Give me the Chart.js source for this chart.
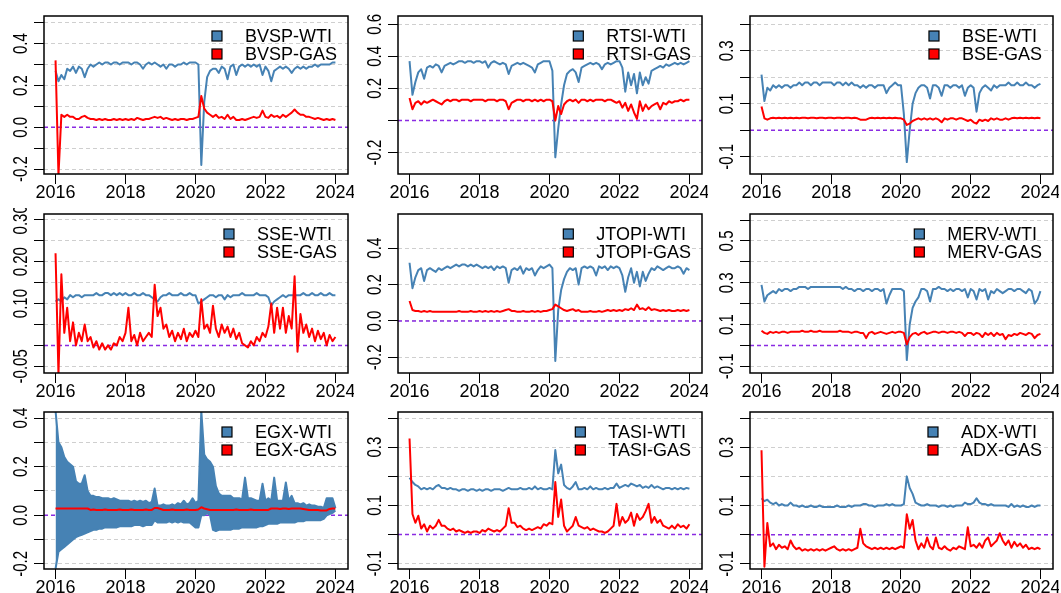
<!DOCTYPE html>
<html>
<head>
<meta charset="utf-8">
<title>Dynamic correlations with WTI and GAS</title>
<script src="https://cdn.jsdelivr.net/npm/chart.js"></script>
<style>
  html, body { margin: 0; padding: 0; background: #fff; }
  #wrap { position: relative; width: 1061px; height: 593px; overflow: hidden; }
  #wrap canvas { position: absolute; }
</style>
</head>
<body>
<div id="wrap"></div>
<script>
// monthly values, Jan 2016 .. Jan 2024 (97 points per series)
var yearTicks = [2016, 2018, 2020, 2022, 2024];
var dates = [];
for (var m = 0; m < 97; m++) dates.push(2016 + m / 12);

// ---- BVSP
var bvspWti = [
  0.27, 0.22, 0.25, 0.23, 0.28, 0.27, 0.29, 0.26, 0.29, 0.28, 0.24, 0.28,
  0.30, 0.29, 0.30, 0.31, 0.30, 0.31, 0.31, 0.30, 0.31, 0.31, 0.30, 0.31,
  0.31, 0.31, 0.30, 0.31, 0.31, 0.30, 0.28, 0.30, 0.31, 0.30, 0.31, 0.30,
  0.29, 0.30, 0.28, 0.30, 0.30, 0.29, 0.30, 0.30, 0.31, 0.30, 0.31, 0.31,
  0.31, 0.30, -0.18, 0.12, 0.24, 0.27, 0.28, 0.28, 0.26, 0.29, 0.28, 0.23,
  0.29, 0.30, 0.25, 0.29, 0.30, 0.29, 0.30, 0.29, 0.30, 0.29, 0.30, 0.25,
  0.29, 0.27, 0.22, 0.27, 0.28, 0.29, 0.28, 0.29, 0.28, 0.26, 0.28, 0.29,
  0.28, 0.29, 0.28, 0.29, 0.29, 0.30, 0.29, 0.30, 0.30, 0.30, 0.30, 0.31,
  0.31];
var bvspGas = [
  0.32, -0.23, 0.06, 0.05, 0.06, 0.05, 0.05, 0.04, 0.04, 0.05, 0.055, 0.045,
  0.04, 0.04, 0.035, 0.04, 0.035, 0.04, 0.035, 0.035, 0.04, 0.035, 0.04, 0.035,
  0.04, 0.035, 0.04, 0.035, 0.045, 0.04, 0.035, 0.04, 0.04, 0.045, 0.05, 0.045,
  0.05, 0.04, 0.045, 0.04, 0.035, 0.04, 0.035, 0.04, 0.04, 0.035, 0.04, 0.04,
  0.045, 0.05, 0.15, 0.09, 0.07, 0.06, 0.05, 0.06, 0.045, 0.05, 0.04, 0.06,
  0.04, 0.05, 0.035, 0.035, 0.04, 0.035, 0.04, 0.045, 0.05, 0.045, 0.05, 0.08,
  0.05, 0.045, 0.06, 0.05, 0.055, 0.045, 0.06, 0.05, 0.06, 0.07, 0.085, 0.07,
  0.06, 0.06, 0.05, 0.05, 0.045, 0.04, 0.045, 0.04, 0.035, 0.04, 0.035, 0.04,
  0.035];
var bvspTicks = [-0.2, -0.1, 0, 0.1, 0.2, 0.3, 0.4, 0.5];
var bvspLabels = ['-0.2', '0.0', '0.2', '0.4'];

// ---- RTSI
var rtsiWti = [
  0.37, 0.16, 0.24, 0.30, 0.32, 0.26, 0.33, 0.34, 0.33, 0.35, 0.34, 0.30,
  0.34, 0.35, 0.36, 0.35, 0.36, 0.37, 0.37, 0.36, 0.37, 0.37, 0.36, 0.37,
  0.37, 0.36, 0.37, 0.33, 0.36, 0.37, 0.36, 0.35, 0.36, 0.35, 0.29, 0.34,
  0.35, 0.36, 0.35, 0.36, 0.35, 0.34, 0.33, 0.30, 0.35, 0.36, 0.37, 0.37,
  0.37, 0.31, -0.23, -0.05, 0.10, 0.22, 0.29, 0.31, 0.32, 0.30, 0.24, 0.33,
  0.34, 0.35, 0.36, 0.35, 0.36, 0.35, 0.32, 0.35, 0.36, 0.35, 0.36, 0.37,
  0.37, 0.33, 0.18, 0.30, 0.22, 0.29, 0.17, 0.30, 0.22, 0.27, 0.23, 0.31,
  0.32, 0.33, 0.34, 0.33, 0.35, 0.34, 0.35, 0.36, 0.35, 0.36, 0.35, 0.36,
  0.37];
var rtsiGas = [
  0.14, 0.07, 0.11, 0.12, 0.10, 0.12, 0.11, 0.12, 0.13, 0.12, 0.11, 0.10,
  0.12, 0.13, 0.12, 0.13, 0.13, 0.12, 0.13, 0.13, 0.13, 0.12, 0.13, 0.13,
  0.13, 0.13, 0.12, 0.13, 0.13, 0.13, 0.12, 0.13, 0.13, 0.12, 0.07, 0.11,
  0.12, 0.13, 0.13, 0.12, 0.13, 0.13, 0.12, 0.13, 0.12, 0.13, 0.12, 0.13,
  0.13, 0.12, 0.00, 0.09, 0.04, 0.10, 0.12, 0.13, 0.12, 0.13, 0.11, 0.13,
  0.13, 0.12, 0.13, 0.12, 0.13, 0.13, 0.13, 0.12, 0.13, 0.13, 0.12, 0.11,
  0.12, 0.08, 0.11, 0.06, 0.10, 0.05, 0.01, 0.12, 0.06, 0.10, 0.07, 0.09,
  0.10, 0.11, 0.07, 0.11, 0.10, 0.12, 0.11, 0.12, 0.12, 0.13, 0.12, 0.13,
  0.13];
var rtsiTicks = [-0.2, 0, 0.2, 0.4, 0.6];
var rtsiLabels = ['-0.2', '0.2', '0.4', '0.6'];

// ---- BSE
var bseWti = [
  0.21, 0.11, 0.16, 0.15, 0.17, 0.16, 0.17, 0.16, 0.17, 0.17, 0.16, 0.17,
  0.17, 0.18, 0.17, 0.18, 0.18, 0.17, 0.18, 0.18, 0.17, 0.18, 0.18, 0.18,
  0.18, 0.17, 0.18, 0.18, 0.17, 0.18, 0.17, 0.18, 0.17, 0.17, 0.16, 0.17,
  0.16, 0.17, 0.17, 0.16, 0.17, 0.17, 0.17, 0.14, 0.16, 0.17, 0.18, 0.17,
  0.17, 0.06, -0.12, 0.00, 0.10, 0.14, 0.16, 0.17, 0.17, 0.16, 0.12, 0.17,
  0.17, 0.16, 0.13, 0.17, 0.17, 0.16, 0.17, 0.17, 0.16, 0.17, 0.13, 0.16,
  0.17, 0.16, 0.07, 0.14, 0.16, 0.17, 0.16, 0.15, 0.17, 0.16, 0.17, 0.17,
  0.17, 0.18, 0.17, 0.17, 0.18, 0.17, 0.17, 0.18, 0.17, 0.17, 0.16, 0.17,
  0.175];
var bseGas = [
  0.09, 0.045, 0.04, 0.045, 0.047, 0.045, 0.047, 0.045, 0.047, 0.045, 0.047, 0.045,
  0.047, 0.045, 0.047, 0.047, 0.045, 0.047, 0.047, 0.045, 0.047, 0.047, 0.045, 0.047,
  0.047, 0.045, 0.047, 0.047, 0.045, 0.047, 0.047, 0.045, 0.047, 0.045, 0.04, 0.04,
  0.04, 0.045, 0.047, 0.045, 0.047, 0.045, 0.047, 0.045, 0.047, 0.045, 0.047, 0.045,
  0.045, 0.04, 0.02, 0.025, 0.035, 0.04, 0.045, 0.04, 0.045, 0.04, 0.045, 0.04,
  0.045, 0.04, 0.03, 0.045, 0.04, 0.045, 0.045, 0.04, 0.045, 0.045, 0.04, 0.035,
  0.04, 0.03, 0.025, 0.04, 0.035, 0.04, 0.035, 0.045, 0.04, 0.045, 0.04, 0.04,
  0.045, 0.04, 0.045, 0.047, 0.045, 0.047, 0.045, 0.047, 0.045, 0.047, 0.045, 0.047,
  0.045];
var bseTicks = [-0.1, 0, 0.1, 0.2, 0.3, 0.4];
var bseLabels = ['-0.1', '0.1', '0.3'];

// ---- SSE
var sseWti = [
  0.105, 0.11, 0.105, 0.115, 0.11, 0.12, 0.115, 0.12, 0.12, 0.115, 0.12, 0.12,
  0.12, 0.12, 0.125, 0.12, 0.12, 0.125, 0.125, 0.12, 0.125, 0.12, 0.125, 0.12,
  0.125, 0.12, 0.12, 0.125, 0.12, 0.12, 0.125, 0.12, 0.12, 0.115, 0.11, 0.105,
  0.115, 0.12, 0.12, 0.125, 0.12, 0.12, 0.12, 0.125, 0.12, 0.12, 0.125, 0.12,
  0.12, 0.10, 0.105, 0.11, 0.115, 0.12, 0.12, 0.115, 0.12, 0.12, 0.11, 0.12,
  0.115, 0.12, 0.12, 0.12, 0.125, 0.12, 0.12, 0.12, 0.12, 0.125, 0.12, 0.12,
  0.12, 0.115, 0.095, 0.105, 0.11, 0.115, 0.12, 0.115, 0.12, 0.12, 0.12, 0.12,
  0.12, 0.125, 0.12, 0.12, 0.125, 0.12, 0.12, 0.125, 0.12, 0.12, 0.125, 0.12,
  0.12];
var sseGas = [
  0.22, -0.07, 0.17, 0.03, 0.09, 0.01, 0.055, 0.0, 0.03, 0.01, 0.05, 0.01,
  0.02, -0.005, 0.01, -0.01, 0.005, -0.01, 0.0, -0.01, 0.005, 0.0, 0.02, 0.01,
  0.03, 0.09, 0.01, 0.025, 0.0, 0.03, 0.01, 0.02, 0.03, 0.02, 0.145, 0.07,
  0.09, 0.04, 0.05, 0.02, 0.035, 0.01, 0.03, 0.015, 0.04, 0.01, 0.03, 0.02,
  0.035, 0.02, 0.11, 0.04, 0.05, 0.03, 0.095, 0.04, 0.02, 0.05, 0.03, 0.045,
  0.02, 0.04, 0.015, 0.03, 0.005, 0.0, -0.005, 0.01, 0.0, 0.02, 0.01, 0.03,
  0.02, 0.045, 0.10, 0.03, 0.09, 0.04, 0.09, 0.03, 0.07, 0.04, 0.165, -0.015,
  0.075, 0.03, 0.05, 0.02, 0.04, 0.01, 0.035, 0.015, 0.03, 0.0, 0.025, 0.01,
  0.02];
var sseTicks = [-0.05, 0, 0.05, 0.10, 0.15, 0.20, 0.25, 0.30];
var sseLabels = ['-0.05', '0.10', '0.20', '0.30'];

// ---- JTOPI
var jtopiWti = [
  0.32, 0.18, 0.24, 0.28, 0.29, 0.22, 0.28, 0.29, 0.28, 0.27, 0.29, 0.28,
  0.29, 0.30, 0.29, 0.30, 0.31, 0.30, 0.31, 0.31, 0.30, 0.31, 0.30, 0.31,
  0.30, 0.29, 0.30, 0.29, 0.30, 0.28, 0.30, 0.29, 0.30, 0.29, 0.21, 0.28,
  0.29, 0.28, 0.30, 0.26, 0.29, 0.28, 0.29, 0.25, 0.28, 0.30, 0.29, 0.30,
  0.31, 0.29, -0.22, 0.06, 0.17, 0.23, 0.27, 0.29, 0.28, 0.29, 0.20, 0.29,
  0.30, 0.29, 0.30, 0.29, 0.25, 0.30, 0.29, 0.30, 0.28, 0.30, 0.29, 0.30,
  0.29, 0.25, 0.16, 0.24, 0.29, 0.21, 0.27, 0.19, 0.27, 0.22, 0.26, 0.29,
  0.28, 0.30, 0.29, 0.28, 0.29, 0.30, 0.29, 0.29, 0.30, 0.29, 0.26, 0.29,
  0.28];
var jtopiGas = [
  0.11, 0.06, 0.055, 0.055, 0.05, 0.055, 0.05, 0.055, 0.05, 0.05, 0.05, 0.05,
  0.05, 0.05, 0.05, 0.05, 0.05, 0.055, 0.05, 0.05, 0.05, 0.055, 0.05, 0.05,
  0.055, 0.05, 0.055, 0.05, 0.055, 0.05, 0.055, 0.05, 0.055, 0.06, 0.065, 0.055,
  0.055, 0.05, 0.05, 0.055, 0.05, 0.05, 0.055, 0.05, 0.055, 0.05, 0.055, 0.055,
  0.06, 0.065, 0.09, 0.08, 0.07, 0.06, 0.055, 0.06, 0.065, 0.055, 0.06, 0.05,
  0.05, 0.05, 0.055, 0.05, 0.05, 0.055, 0.05, 0.055, 0.06, 0.055, 0.06, 0.055,
  0.06, 0.055, 0.065, 0.06, 0.07, 0.06, 0.09, 0.065, 0.07, 0.06, 0.075, 0.06,
  0.065, 0.06, 0.055, 0.06, 0.055, 0.06, 0.055, 0.055, 0.06, 0.055, 0.06, 0.055,
  0.06];
var jtopiTicks = [-0.2, 0, 0.2, 0.4];
var jtopiLabels = ['-0.2', '0.0', '0.2', '0.4'];

// ---- MERV
var mervWti = [
  0.29, 0.21, 0.24, 0.25, 0.26, 0.25, 0.27, 0.26, 0.27, 0.27, 0.26, 0.27,
  0.27, 0.28, 0.28, 0.28, 0.27, 0.28, 0.28, 0.28, 0.28, 0.28, 0.28, 0.28,
  0.28, 0.28, 0.28, 0.28, 0.27, 0.28, 0.27, 0.27, 0.26, 0.27, 0.27, 0.26,
  0.27, 0.27, 0.26, 0.27, 0.27, 0.26, 0.27, 0.20, 0.24, 0.27, 0.27, 0.27,
  0.27, 0.26, -0.07, 0.10, 0.18, 0.21, 0.23, 0.27, 0.27, 0.26, 0.21, 0.27,
  0.27, 0.28, 0.27, 0.27, 0.26, 0.27, 0.26, 0.27, 0.27, 0.26, 0.27, 0.23,
  0.27, 0.26, 0.22, 0.27, 0.26, 0.27, 0.22, 0.26, 0.25, 0.27, 0.26, 0.25,
  0.26, 0.27, 0.27, 0.26, 0.27, 0.27, 0.26, 0.25, 0.27, 0.26, 0.20, 0.22,
  0.26];
var mervGas = [
  0.07, 0.06, 0.055, 0.065, 0.06, 0.065, 0.06, 0.065, 0.065, 0.06, 0.065, 0.065,
  0.065, 0.065, 0.07, 0.065, 0.065, 0.07, 0.065, 0.065, 0.07, 0.065, 0.065, 0.065,
  0.065, 0.065, 0.065, 0.07, 0.065, 0.065, 0.065, 0.06, 0.065, 0.065, 0.06, 0.06,
  0.035, 0.06, 0.065, 0.055, 0.06, 0.065, 0.06, 0.055, 0.06, 0.065, 0.06, 0.065,
  0.065, 0.06, 0.005, 0.04, 0.055, 0.06, 0.05, 0.06, 0.065, 0.055, 0.06, 0.065,
  0.065, 0.06, 0.065, 0.065, 0.06, 0.065, 0.065, 0.06, 0.065, 0.06, 0.045, 0.06,
  0.06, 0.05, 0.06, 0.055, 0.04, 0.06, 0.05, 0.06, 0.045, 0.06, 0.05, 0.055,
  0.03, 0.05, 0.045, 0.055, 0.05, 0.06, 0.055, 0.05, 0.06, 0.055, 0.035, 0.05,
  0.055];
var mervTicks = [-0.1, 0, 0.1, 0.2, 0.3, 0.4, 0.5, 0.6];
var mervLabels = ['-0.1', '0.1', '0.3', '0.5'];

// ---- EGX (WTI oscillates day to day: kept as its upper and lower envelope)
var egxWtiHigh = [
  0.43, 0.30, 0.28, 0.24, 0.22, 0.21, 0.20, 0.14, 0.13, 0.13, 0.165, 0.10,
  0.08, 0.08, 0.075, 0.075, 0.07, 0.07, 0.07, 0.065, 0.07, 0.065, 0.06, 0.06,
  0.06, 0.06, 0.055, 0.06, 0.055, 0.06, 0.055, 0.06, 0.05, 0.055, 0.11, 0.04,
  0.04, 0.045, 0.04, 0.04, 0.045, 0.04, 0.05, 0.045, 0.06, 0.045, 0.05, 0.07,
  0.05, 0.06, 0.43, 0.25, 0.23, 0.22, 0.20, 0.12, 0.09, 0.08, 0.08, 0.08,
  0.08, 0.07, 0.07, 0.07, 0.065, 0.155, 0.07, 0.07, 0.065, 0.06, 0.06, 0.13,
  0.06, 0.07, 0.06, 0.155, 0.06, 0.06, 0.06, 0.135, 0.06, 0.08, 0.05, 0.05,
  0.045, 0.05, 0.04, 0.045, 0.04, 0.04, 0.035, 0.035, 0.03, 0.07, 0.07, 0.07,
  0.03];
var egxWtiLow = [
  -0.22, -0.15, -0.14, -0.13, -0.12, -0.11, -0.10, -0.09, -0.085, -0.08, -0.075, -0.07,
  -0.065, -0.06, -0.06, -0.055, -0.055, -0.05, -0.05, -0.05, -0.05, -0.05, -0.045, -0.045,
  -0.045, -0.045, -0.045, -0.04, -0.04, -0.04, -0.045, -0.04, -0.04, -0.04, -0.02, -0.03,
  -0.03, -0.03, -0.03, -0.025, -0.03, -0.025, -0.03, -0.025, -0.03, -0.03, -0.03, -0.04,
  -0.05, -0.05, 0.00, 0.00, 0.01, 0.00, -0.06, -0.065, -0.06, -0.06, -0.06, -0.06,
  -0.06, -0.055, -0.055, -0.055, -0.05, -0.05, -0.05, -0.05, -0.05, -0.05, -0.045, -0.045,
  -0.04, -0.035, -0.035, -0.035, -0.035, -0.03, -0.03, -0.03, -0.03, -0.03, -0.03, -0.025,
  -0.025, -0.025, -0.02, -0.02, -0.02, -0.02, -0.02, -0.02, -0.015, 0.00, 0.005, 0.01,
  0.02];
var egxGas = [
  0.028, 0.028, 0.028, 0.028, 0.028, 0.028, 0.028, 0.028, 0.028, 0.028, 0.028, 0.028,
  0.022, 0.024, 0.022, 0.022, 0.022, 0.024, 0.022, 0.022, 0.022, 0.022, 0.024, 0.022,
  0.022, 0.022, 0.024, 0.022, 0.022, 0.022, 0.022, 0.024, 0.022, 0.022, 0.030, 0.030,
  0.026, 0.022, 0.022, 0.022, 0.024, 0.022, 0.022, 0.022, 0.022, 0.024, 0.022, 0.022,
  0.022, 0.024, 0.033, 0.028, 0.025, 0.022, 0.022, 0.022, 0.022, 0.022, 0.022, 0.022,
  0.022, 0.022, 0.024, 0.022, 0.022, 0.022, 0.022, 0.024, 0.022, 0.022, 0.022, 0.022,
  0.022, 0.022, 0.028, 0.028, 0.028, 0.026, 0.028, 0.028, 0.026, 0.028, 0.028, 0.028,
  0.028, 0.026, 0.024, 0.022, 0.022, 0.022, 0.022, 0.020, 0.020, 0.020, 0.026, 0.028,
  0.028];
var egxTicks = [-0.2, -0.1, 0, 0.1, 0.2, 0.3, 0.4];
var egxLabels = ['-0.2', '0.0', '0.2', '0.4'];

// ---- TASI
var tasiWti = [
  0.195, 0.18, 0.17, 0.165, 0.155, 0.16, 0.155, 0.16, 0.155, 0.165, 0.17, 0.16,
  0.16, 0.155, 0.16, 0.155, 0.155, 0.15, 0.155, 0.155, 0.15, 0.155, 0.155, 0.15,
  0.155, 0.15, 0.155, 0.155, 0.15, 0.155, 0.155, 0.155, 0.15, 0.155, 0.16, 0.155,
  0.155, 0.155, 0.16, 0.155, 0.155, 0.16, 0.155, 0.165, 0.155, 0.16, 0.155, 0.155,
  0.16, 0.155, 0.29, 0.21, 0.24, 0.17, 0.16, 0.155, 0.165, 0.18, 0.155, 0.155,
  0.16, 0.155, 0.165, 0.155, 0.16, 0.155, 0.155, 0.16, 0.155, 0.16, 0.16, 0.175,
  0.16, 0.165, 0.17, 0.165, 0.175, 0.17, 0.165, 0.17, 0.16, 0.165, 0.16, 0.17,
  0.16, 0.165, 0.16, 0.155, 0.16, 0.16, 0.155, 0.16, 0.155, 0.16, 0.155, 0.16,
  0.157];
var tasiGas = [
  0.33, 0.07, 0.04, 0.064, 0.02, 0.035, 0.01, 0.03, 0.02, 0.03, 0.05, 0.03,
  0.03, 0.02, 0.015, 0.02, 0.01, 0.015, 0.01, 0.005, 0.01, 0.005, 0.01, 0.01,
  0.005, 0.015, 0.01, 0.02, 0.015, 0.01, 0.015, 0.01, 0.02, 0.03, 0.09, 0.04,
  0.04, 0.025, 0.03, 0.02, 0.015, 0.02, 0.015, 0.02, 0.025, 0.02, 0.035, 0.03,
  0.04, 0.035, 0.18, 0.06, 0.12, 0.03, 0.01, 0.02, 0.03, 0.06, 0.03, 0.025,
  0.02, 0.025, 0.015, 0.02, 0.015, 0.01, 0.01, 0.005, 0.01, 0.02, 0.03, 0.105,
  0.03, 0.06, 0.04, 0.05, 0.075, 0.03, 0.07, 0.05, 0.06, 0.08, 0.105, 0.04,
  0.06, 0.04, 0.05, 0.03, 0.025, 0.02, 0.03, 0.02, 0.035, 0.025, 0.03, 0.02,
  0.035];
var tasiTicks = [-0.1, 0, 0.1, 0.2, 0.3, 0.4];
var tasiLabels = ['-0.1', '0.1', '0.3'];

// ---- ADX
var adxWti = [
  0.125, 0.115, 0.12, 0.11, 0.105, 0.11, 0.10, 0.105, 0.10, 0.10, 0.11, 0.10,
  0.10, 0.095, 0.10, 0.095, 0.095, 0.10, 0.095, 0.095, 0.10, 0.095, 0.095, 0.095,
  0.095, 0.095, 0.10, 0.095, 0.095, 0.095, 0.10, 0.095, 0.10, 0.10, 0.10, 0.105,
  0.105, 0.10, 0.10, 0.095, 0.10, 0.10, 0.10, 0.105, 0.10, 0.105, 0.10, 0.10,
  0.10, 0.105, 0.20, 0.16, 0.14, 0.11, 0.105, 0.10, 0.10, 0.105, 0.10, 0.10,
  0.10, 0.095, 0.10, 0.10, 0.095, 0.10, 0.095, 0.10, 0.10, 0.10, 0.11, 0.105,
  0.105, 0.11, 0.125, 0.11, 0.105, 0.105, 0.10, 0.105, 0.10, 0.10, 0.10, 0.10,
  0.10, 0.095, 0.105, 0.095, 0.10, 0.095, 0.10, 0.095, 0.095, 0.10, 0.095, 0.10,
  0.10];
var adxGas = [
  0.29, -0.11, 0.04, -0.04, -0.03, -0.05, -0.035, -0.045, -0.04, -0.05, -0.02, -0.04,
  -0.05, -0.045, -0.055, -0.05, -0.055, -0.05, -0.055, -0.05, -0.055, -0.05, -0.055, -0.05,
  -0.045, -0.04, -0.05, -0.055, -0.05, -0.055, -0.05, -0.055, -0.05, -0.045, 0.02, -0.03,
  -0.04, -0.045, -0.05, -0.045, -0.05, -0.045, -0.05, -0.045, -0.05, -0.045, -0.05, -0.045,
  -0.04, -0.045, 0.07, 0.02, 0.05, -0.02, -0.05, -0.03, -0.045, -0.01, -0.04, -0.05,
  -0.01, -0.045, -0.05, -0.04, -0.05, -0.055, -0.045, -0.05, -0.04, -0.045, -0.05, 0.025,
  -0.04, -0.035, -0.045, -0.03, -0.045, -0.02, -0.01, -0.04, -0.03, -0.02, 0.005, -0.02,
  -0.035, -0.02, -0.045, -0.025, -0.04, -0.03, -0.045, -0.035, -0.05, -0.045, -0.05, -0.045,
  -0.05];
var adxTicks = [-0.1, 0, 0.1, 0.2, 0.3, 0.4];
var adxLabels = ['-0.1', '0.1', '0.3'];

var panels = [
  { name: 'BVSP',  wti: bvspWti,  gas: bvspGas,  min: -0.223, max: 0.532, ticks: bvspTicks,  labels: bvspLabels },
  { name: 'RTSI',  wti: rtsiWti,  gas: rtsiGas,  min: -0.334, max: 0.652, ticks: rtsiTicks,  labels: rtsiLabels },
  { name: 'BSE',   wti: bseWti,   gas: bseGas,   min: -0.165, max: 0.431, ticks: bseTicks,   labels: bseLabels },
  { name: 'SSE',   wti: sseWti,   gas: sseGas,   min: -0.066, max: 0.314, ticks: sseTicks,   labels: sseLabels },
  { name: 'JTOPI', wti: jtopiWti, gas: jtopiGas, min: -0.286, max: 0.588, ticks: jtopiTicks, labels: jtopiLabels },
  { name: 'MERV',  wti: mervWti,  gas: mervGas,  min: -0.132, max: 0.629, ticks: mervTicks,  labels: mervLabels },
  { name: 'EGX',   wti: egxWtiHigh, wtiLow: egxWtiLow, gas: egxGas, min: -0.221, max: 0.425, ticks: egxTicks, labels: egxLabels },
  { name: 'TASI',  wti: tasiWti,  gas: tasiGas,  min: -0.119, max: 0.421, ticks: tasiTicks,  labels: tasiLabels },
  { name: 'ADX',   wti: adxWti,   gas: adxGas,   min: -0.118, max: 0.421, ticks: adxTicks,   labels: adxLabels }
];

// plot boxes (page pixels)
var colLeft = [44, 398, 750], colWidth = [304, 304, 303];
var rowTop = [16, 214, 412], rowHeight = [158, 159, 157];
var padL = 44, padT = 6, padR = 6, padB = 30;
var FONT = '"Liberation Sans", Arial, Helvetica, sans-serif';
var BLUE = '#4682B4', RED = '#FF0000';

function toXY(values) {
  return values.map(function (v, i) { return { x: dates[i], y: v }; });
}

// zero line, frame, rotated y labels and legend
var deco = {
  id: 'deco',
  beforeDatasetsDraw: function (chart) {
    var ctx = chart.ctx, a = chart.chartArea;
    var y0 = chart.scales.y.getPixelForValue(0);
    ctx.save();
    ctx.strokeStyle = '#8A2BE2';
    ctx.lineWidth = 1.5;
    ctx.setLineDash([4, 3]);
    ctx.beginPath();
    ctx.moveTo(a.left, y0);
    ctx.lineTo(a.right, y0);
    ctx.stroke();
    ctx.restore();
  },
  afterDraw: function (chart) {
    var ctx = chart.ctx, a = chart.chartArea;
    var p = chart.config.options.panel;
    ctx.save();
    ctx.strokeStyle = '#000';
    ctx.lineWidth = 1.5;
    ctx.strokeRect(a.left, a.top, a.right - a.left, a.bottom - a.top);

    // y tick labels, rotated like base R axes
    ctx.fillStyle = '#000';
    ctx.font = '15px ' + FONT;
    ctx.textAlign = 'center';
    ctx.textBaseline = 'middle';
    p.labels.forEach(function (s) {
      var y = chart.scales.y.getPixelForValue(parseFloat(s));
      ctx.save();
      ctx.translate(a.left - 22, y);
      ctx.rotate(-Math.PI / 2);
      ctx.scale(1, 1.3);
      ctx.fillText(s, 0, 0);
      ctx.restore();
    });

    // legend, top right inside the box
    ctx.font = '18px ' + FONT;
    ctx.textAlign = 'left';
    var ds = chart.data.datasets.filter(function (d) { return d.label; });
    var maxW = 0;
    ds.forEach(function (d) { maxW = Math.max(maxW, ctx.measureText(d.label).width); });
    var tx = a.right - 11 - maxW;
    ds.forEach(function (d, i) {
      var cy = a.top + 20 + i * 18;
      ctx.fillStyle = d.borderColor;
      ctx.fillRect(tx - 33, cy - 5, 10, 10);
      ctx.strokeStyle = '#000';
      ctx.lineWidth = 1.2;
      ctx.strokeRect(tx - 33, cy - 5, 10, 10);
      ctx.fillStyle = '#000';
      ctx.fillText(d.label, tx, cy + 1);
    });
    ctx.restore();
  }
};

var wrap = document.getElementById('wrap');

panels.forEach(function (p, k) {
  var r = Math.floor(k / 3), c = k % 3;
  var cv = document.createElement('canvas');
  var w = colWidth[c] + padL + padR, h = rowHeight[r] + padT + padB;
  cv.width = w; cv.height = h;
  cv.style.left = (colLeft[c] - padL) + 'px';
  cv.style.top = (rowTop[r] - padT) + 'px';
  cv.style.width = w + 'px'; cv.style.height = h + 'px';
  wrap.appendChild(cv);

  var sets = [{ label: p.name + '-WTI', data: toXY(p.wti), borderColor: BLUE, order: 2 }];
  if (p.wtiLow) {
    sets.push({ label: '', data: toXY(p.wtiLow), borderColor: BLUE, backgroundColor: BLUE, fill: '-1', order: 2 });
  }
  sets.push({ label: p.name + '-GAS', data: toXY(p.gas), borderColor: RED, order: 1 });

  new Chart(cv.getContext('2d'), {
    type: 'line',
    data: { datasets: sets },
    options: {
      panel: p,
      responsive: false,
      animation: false,
      devicePixelRatio: 1,
      layout: { padding: { left: 0, top: padT, right: padR, bottom: 0 } },
      elements: {
        point: { radius: 0 },
        line: { borderWidth: 2, tension: 0, borderJoinStyle: 'round', fill: false }
      },
      datasets: { line: { clip: 0 } },
      plugins: { legend: { display: false }, tooltip: { enabled: false } },
      scales: {
        x: {
          type: 'linear', min: 2015.67, max: 2024.36,
          afterBuildTicks: function (s) { s.ticks = yearTicks.map(function (v) { return { value: v }; }); },
          afterFit: function (s) { s.height = padB; },
          grid: { drawOnChartArea: false, drawTicks: true, tickLength: 10, tickColor: '#000', tickWidth: 1 },
          border: { display: false },
          ticks: {
            autoSkip: false, maxRotation: 0, padding: -2, color: '#000',
            font: { family: FONT, size: 18 },
            callback: function (v) { return String(v); }
          }
        },
        y: {
          type: 'linear', min: p.min, max: p.max,
          afterBuildTicks: function (s) { s.ticks = p.ticks.map(function (v) { return { value: v }; }); },
          afterFit: function (s) { s.width = padL; },
          grid: { color: '#cfcfcf', lineWidth: 1, tickLength: 10, tickColor: '#000', tickWidth: 1 },
          border: { display: false, dash: [4, 3] },
          ticks: { display: false }
        }
      }
    },
    plugins: [deco]
  });
});
</script>
</body>
</html>
